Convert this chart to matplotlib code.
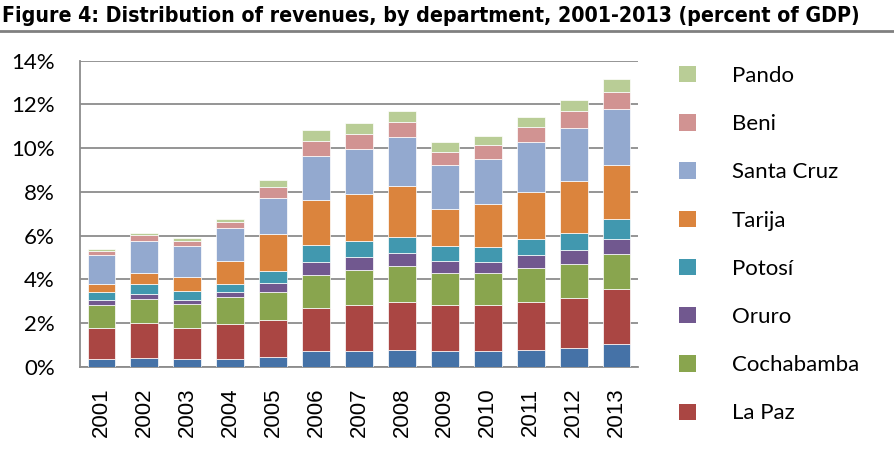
import matplotlib
matplotlib.use("Agg")
import matplotlib.pyplot as plt
import numpy as np
from matplotlib.patches import Patch

years = ["2001", "2002", "2003", "2004", "2005", "2006", "2007",
         "2008", "2009", "2010", "2011", "2012", "2013"]

chuquisaca = [0.35, 0.38, 0.34, 0.35, 0.46, 0.70, 0.73, 0.78, 0.70, 0.70, 0.75, 0.84, 1.02]
la_paz     = [1.42, 1.60, 1.43, 1.62, 1.69, 2.00, 2.11, 2.19, 2.11, 2.11, 2.22, 2.29, 2.52]
cochabamba = [1.04, 1.10, 1.08, 1.20, 1.25, 1.50, 1.58, 1.64, 1.46, 1.46, 1.53, 1.57, 1.63]
oruro      = [0.23, 0.26, 0.22, 0.23, 0.44, 0.61, 0.61, 0.58, 0.55, 0.54, 0.61, 0.65, 0.69]
potosi     = [0.36, 0.46, 0.38, 0.40, 0.55, 0.76, 0.74, 0.74, 0.72, 0.68, 0.75, 0.78, 0.88]
tarija     = [0.40, 0.47, 0.67, 1.02, 1.70, 2.07, 2.12, 2.35, 1.69, 1.94, 2.13, 2.38, 2.50]
santa_cruz = [1.30, 1.47, 1.39, 1.51, 1.64, 2.02, 2.07, 2.22, 1.98, 2.07, 2.31, 2.41, 2.54]
beni       = [0.21, 0.29, 0.26, 0.31, 0.49, 0.67, 0.69, 0.71, 0.63, 0.63, 0.67, 0.77, 0.81]
pando      = [0.09, 0.09, 0.10, 0.12, 0.32, 0.49, 0.49, 0.48, 0.43, 0.43, 0.44, 0.51, 0.59]

series_names = ["Chuquisaca", "La Paz", "Cochabamba", "Oruro", "Potosí",
                "Tarija", "Santa Cruz", "Beni", "Pando"]
series_values = [chuquisaca, la_paz, cochabamba, oruro, potosi,
                 tarija, santa_cruz, beni, pando]
colors = ["#4572A7", "#AA4643", "#89A54E", "#71588F", "#4198AF",
          "#DB843D", "#93A9CF", "#D19392", "#B9CD96"]
legend_names = ["Pando", "Beni", "Santa Cruz", "Tarija", "Potosí",
                "Oruro", "Cochabamba", "La Paz"]

fig = plt.figure(figsize=(8.94, 4.53), dpi=100)
ax = fig.add_axes([80/894, 1-366.7/453, 558/894, 306/453])

x = np.arange(len(years))
bottom = np.zeros(len(years))
for name, vals, c in zip(series_names, series_values, colors):
    vals = np.array(vals) / 100.0
    ax.bar(x, vals, 0.65, bottom=bottom, color=c, edgecolor="#ffffff",
           linewidth=0.5, label=name, zorder=3)
    bottom += vals

ax.set_xlim(-0.5, len(years) - 0.5)
ax.set_ylim(0, 0.14)
ax.set_yticks(np.arange(0, 0.141, 0.02))
ax.set_yticklabels([f"{int(round(v*100))}%" for v in np.arange(0, 0.141, 0.02)],
                   family=["Lato", "DejaVu Sans"], fontsize=16)
ax.set_xticks(x)
ax.set_xticklabels(years, rotation=90, family=["Liberation Sans", "DejaVu Sans"],
                   fontsize=16)
ax.tick_params(axis="y", length=0, pad=18)
ax.tick_params(axis="x", length=0, pad=15)
ax.grid(axis="y", color="#8c8c8c", linewidth=1.3, zorder=0)
for s in ["top", "right"]:
    ax.spines[s].set_visible(False)
for s in ["left", "bottom"]:
    ax.spines[s].set_color("#8c8c8c")
    ax.spines[s].set_linewidth(1.3)

cmap = dict(zip(series_names, colors))
handles = [Patch(facecolor=cmap[n], edgecolor="none", label=n) for n in legend_names]
leg = fig.legend(handles=handles, loc="upper left", bbox_to_anchor=(670/894, 1-57/453),
                 frameon=False, prop={"family": ["Lato", "DejaVu Sans"], "size": 16},
                 handlelength=0.75, handleheight=0.75, handletextpad=1.63,
                 labelspacing=1.27, borderaxespad=0)

fig.text(2/894, 1-16/453, "Figure 4: Distribution of revenues, by department, 2001-2013 (percent of GDP)",
         family=["DejaVu Sans Condensed", "Liberation Sans Narrow", "DejaVu Sans"],
         fontstretch="condensed", fontweight="bold", fontsize=15.35, va="center", ha="left")
fig.add_artist(plt.Line2D([0, 1], [1-31/453, 1-31/453], color="#808080", linewidth=2,
                          transform=fig.transFigure))

fig.savefig("out.png", dpi=100)
